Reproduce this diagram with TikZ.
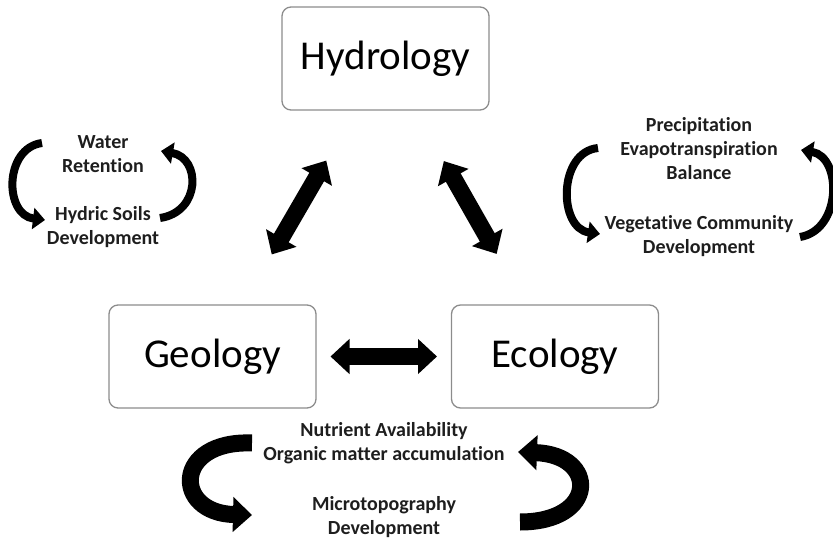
\documentclass[tikz,border=0pt]{standalone}
\usepackage{fontspec}
\setmainfont{Carlito}[Ligatures={NoCommon,NoContextual}]
\usetikzlibrary{arrows.meta,calc}
\definecolor{boxgray}{HTML}{8C8C8C}
\definecolor{inkgray}{HTML}{1E1E1E}
\begin{document}
\begin{tikzpicture}[x=1bp,y=-1bp,
  box/.style={draw=boxgray, line width=1.3bp, rounded corners=9bp,
    minimum width=207bp, minimum height=103bp, inner sep=0pt,
    text=black, font=\fontsize{41bp}{48bp}\selectfont},
  lbl/.style={align=center, inner sep=0pt, text=inkgray,
    font=\bfseries\fontsize{20bp}{24bp}\selectfont},
  blockarrow/.style={line width=17bp,
    {Triangle[width=34bp,length=19bp]}-{Triangle[width=34bp,length=19bp]},
    shorten <=118bp, shorten >=118bp},
  cycsmall/.style={line width=8bp, -{Triangle[width=21bp,length=12bp]}},
  cycbig/.style={line width=17bp, -{Triangle[width=34bp,length=19bp]}}]
\useasboundingbox (0,0) rectangle (833,540);

% the three disciplines
\node[box] (hyd) at (385.5,58.5) {Hydrology};
\node[box] (geo) at (212.5,356.5) {Geology};
\node[box] (eco) at (555,356.5) {Ecology};

% two-way interactions between them
\draw[blockarrow] (geo.center) -- (hyd.center);
\draw[blockarrow] (eco.center) -- (hyd.center);
\draw[blockarrow] (geo.center) -- (eco.center);

% hydrology -- geology feedback
\node[lbl] (wr) at (103,154) {Water\\Retention};
\node[lbl] (hs) at (103,227) {Hydric Soils\\Development};
\coordinate (wrL) at (42,143);
\coordinate (hsL) at (45,220);
\coordinate (hsR) at (160,218);
\coordinate (wrR) at (161,151);
\draw[cycsmall] (wrL) .. controls (4,148) and (4,215) .. (hsL);
\draw[cycsmall] (hsR) .. controls (201,212) and (201,158) .. (wrR);

% hydrology -- ecology feedback
\node[lbl] (pe) at (699,149) {Precipitation\\Evapotranspiration\\Balance};
\node[lbl] (vc) at (699,236) {Vegetative Community\\Development};
\coordinate (peL) at (598,148);
\coordinate (vcL) at (600,234);
\coordinate (vcR) at (800,237);
\coordinate (peR) at (801,150);
\draw[cycsmall] (peL) .. controls (558,152) and (558,228) .. (vcL);
\draw[cycsmall] (vcR) .. controls (842,230) and (842,157) .. (peR);

% geology -- ecology feedback
\node[lbl] (na) at (384,443.5) {Nutrient Availability\\Organic matter accumulation};
\node[lbl] (md) at (384,517.5) {Microtopography\\Development};
\coordinate (naL) at (252,443);
\coordinate (mdL) at (252,515);
\coordinate (mdR) at (520,522);
\coordinate (naR) at (518,452);
\draw[cycbig] (naL) .. controls (173,440) and (173,513) .. (mdL);
\draw[cycbig] (mdR) .. controls (598,522) and (598,455) .. (naR);
\end{tikzpicture}
\end{document}
